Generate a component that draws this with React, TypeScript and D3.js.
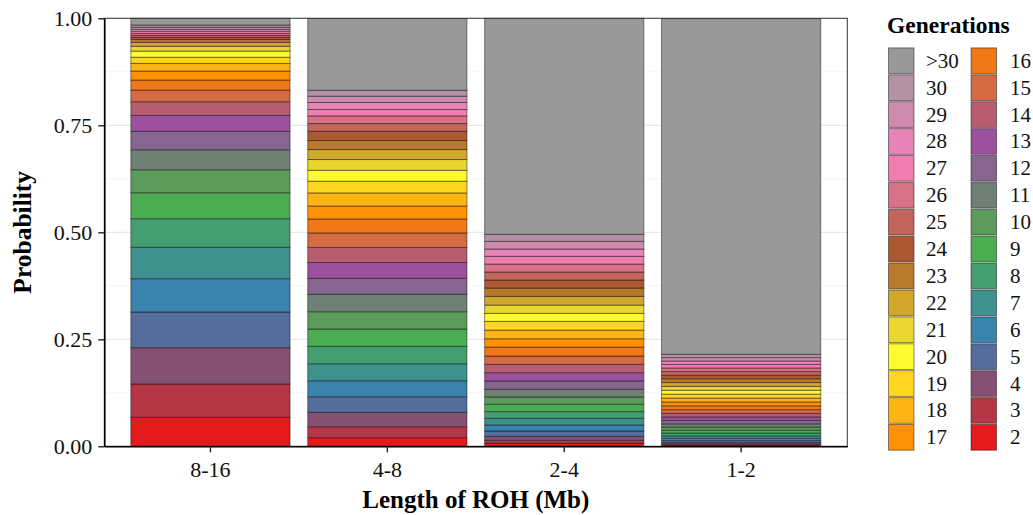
import React, { useRef, useEffect } from 'react';
import * as d3 from 'd3';

const { select, scaleLinear, scaleBand, stack, piecewise, interpolateRgb, axisLeft, axisBottom, range } = d3;

// bar categories (left to right)
const categories = ['8-16', '4-8', '2-4', '1-2'];

// generations, bottom of the stack first
const generations = [
  '2', '3', '4', '5', '6', '7', '8', '9', '10', '11', '12', '13', '14', '15', '16',
  '17', '18', '19', '20', '21', '22', '23', '24', '25', '26', '27', '28', '29', '30', '>30',
];

// probability per generation, same order as `generations`
const prob8to16 = [
  0.0678, 0.0778, 0.0848, 0.0834, 0.0778, 0.0734, 0.0668, 0.0607, 0.0537, 0.0467,
  0.043, 0.0374, 0.0318, 0.0273, 0.0234, 0.021, 0.018, 0.0142, 0.0145, 0.011,
  0.0093, 0.007, 0.0047, 0.0047, 0.0047, 0.0047, 0.0047, 0.0047, 0.0054, 0.0157,
];
const prob4to8 = [
  0.0201, 0.0257, 0.0336, 0.0364, 0.0374, 0.0397, 0.0407, 0.0404, 0.0404, 0.0407,
  0.0374, 0.0369, 0.035, 0.0341, 0.0327, 0.0304, 0.0304, 0.0273, 0.0257, 0.025,
  0.0234, 0.021, 0.0217, 0.018, 0.0178, 0.015, 0.0164, 0.0147, 0.014, 0.1675,
];
const prob2to4 = [
  0.007, 0.007, 0.0093, 0.0124, 0.014, 0.0157, 0.0157, 0.0171, 0.0171, 0.018,
  0.0194, 0.0194, 0.0194, 0.0194, 0.021, 0.0194, 0.0203, 0.0203, 0.0187, 0.0194,
  0.0203, 0.0194, 0.0187, 0.0187, 0.0187, 0.018, 0.0171, 0.018, 0.0164, 0.5047,
];
const prob1to2 = [
  0.0021, 0.0028, 0.0037, 0.0047, 0.0054, 0.0058, 0.0063, 0.0068, 0.0072, 0.0077,
  0.0079, 0.0082, 0.0084, 0.0086, 0.0089, 0.0091, 0.0091, 0.0091, 0.0091, 0.0091,
  0.0089, 0.0089, 0.0084, 0.0084, 0.0084, 0.0084, 0.0079, 0.0079, 0.0079, 0.784,
];
const seriesByCategory = [prob8to16, prob4to8, prob2to4, prob1to2];

const yTicks = [0, 0.25, 0.5, 0.75, 1];
const yMinorTicks = [0.125, 0.375, 0.625, 0.875];

// Set1 ramp, like colorRampPalette(brewer.pal(9, "Set1"))
const set1 = ['#E41A1C', '#377EB8', '#4DAF4A', '#984EA3', '#FF7F00', '#FFFF33', '#A65628', '#F781BF', '#999999'];
const ramp = piecewise(interpolateRgb, set1);
const palette = generations.map((_, i) => ramp(i / (generations.length - 1)));

const W = 1033;
const H = 515;
const panel = { left: 104.3, right: 847.3, top: 18.3, bottom: 446.3 };
const serif = '"Liberation Serif", "Times New Roman", serif';
const edge = 'rgba(0,0,0,0.45)';

export default function App() {
  const ref = useRef<SVGSVGElement>(null);

  useEffect(() => {
    document.body.style.margin = '0';
    const svg = select(ref.current);
    svg.selectAll('*').remove();

    const x = scaleBand<string>()
      .domain(categories)
      .range([panel.left, panel.right])
      .paddingInner(0.1)
      .paddingOuter(0.15);
    const y = scaleLinear().domain([0, 1]).range([panel.bottom, panel.top]);

    const rows = categories.map((c, ci) => {
      const row: { [k: string]: string | number } = { category: c };
      generations.forEach((g, gi) => (row[g] = seriesByCategory[ci][gi]));
      return row;
    });
    const stacked = stack<{ [k: string]: string | number }>().keys(generations)(rows);

    // grid
    const grid = svg.append('g');
    grid
      .selectAll('line.minor')
      .data(yMinorTicks)
      .enter()
      .append('line')
      .attr('x1', panel.left)
      .attr('x2', panel.right)
      .attr('y1', d => y(d))
      .attr('y2', d => y(d))
      .attr('stroke', '#f2f2f2')
      .attr('stroke-width', 0.8);
    grid
      .selectAll('line.major')
      .data(yTicks)
      .enter()
      .append('line')
      .attr('x1', panel.left)
      .attr('x2', panel.right)
      .attr('y1', d => y(d))
      .attr('y2', d => y(d))
      .attr('stroke', '#e9e9e9')
      .attr('stroke-width', 1.2);

    // bars
    svg
      .append('g')
      .selectAll('g')
      .data(stacked)
      .enter()
      .append('g')
      .attr('fill', (_, i) => palette[i])
      .selectAll('rect')
      .data(d => d)
      .enter()
      .append('rect')
      .attr('x', d => x(d.data.category as string) as number)
      .attr('width', x.bandwidth())
      .attr('y', d => y(d[1]))
      .attr('height', d => y(d[0]) - y(d[1]))
      .attr('stroke', edge)
      .attr('stroke-width', 1);

    // panel border
    svg
      .append('rect')
      .attr('x', panel.left)
      .attr('y', panel.top)
      .attr('width', panel.right - panel.left)
      .attr('height', panel.bottom - panel.top)
      .attr('fill', 'none')
      .attr('stroke', '#333')
      .attr('stroke-width', 1);

    // axes
    const yAxis = svg
      .append('g')
      .attr('transform', `translate(${panel.left},0)`)
      .call(
        axisLeft(y)
          .tickValues(yTicks)
          .tickFormat(d => (d as number).toFixed(2))
          .tickSize(6)
          .tickSizeOuter(0)
          .tickPadding(6)
      );
    const xAxis = svg
      .append('g')
      .attr('transform', `translate(0,${panel.bottom})`)
      .call(axisBottom(x).tickSize(6).tickSizeOuter(0).tickPadding(9));
    [yAxis, xAxis].forEach(a => {
      a.select('.domain').attr('stroke', '#000').attr('stroke-width', 1.6);
      a.selectAll('.tick line').attr('stroke', '#222').attr('stroke-width', 1.4);
      a.selectAll('.tick text').attr('fill', '#111').style('font-family', serif).style('font-size', '22px');
    });
    yAxis.selectAll('.tick text').attr('dy', '0.34em');

    // axis titles
    svg
      .append('text')
      .attr('x', (panel.left + panel.right) / 2)
      .attr('y', 507.5)
      .attr('text-anchor', 'middle')
      .style('font-family', serif)
      .style('font-weight', 'bold')
      .style('font-size', '25px')
      .text('Length of ROH (Mb)');
    svg
      .append('text')
      .attr('transform', `translate(31,${(panel.top + panel.bottom) / 2}) rotate(-90)`)
      .attr('text-anchor', 'middle')
      .style('font-family', serif)
      .style('font-weight', 'bold')
      .style('font-size', '25.5px')
      .text('Probability');

    // legend
    const legend = svg.append('g');
    legend
      .append('text')
      .attr('x', 887)
      .attr('y', 32.5)
      .style('font-family', serif)
      .style('font-weight', 'bold')
      .style('font-size', '23.5px')
      .text('Generations');
    const perCol = 15;
    const order = generations.slice().reverse();
    const keyX = [888.5, 971];
    const labelX = [926, 1010];
    const keyTop = 47.3;
    const pitch = 26.9;
    const items = legend
      .selectAll('g.item')
      .data(range(order.length))
      .enter()
      .append('g')
      .attr('class', 'item');
    items
      .append('rect')
      .attr('x', i => keyX[Math.floor(i / perCol)])
      .attr('y', i => keyTop + (i % perCol) * pitch + 0.6)
      .attr('width', 25.5)
      .attr('height', 25.7)
      .attr('fill', i => palette[generations.indexOf(order[i])])
      .attr('stroke', edge)
      .attr('stroke-width', 1);
    items
      .append('text')
      .attr('x', i => labelX[Math.floor(i / perCol)])
      .attr('y', i => keyTop + (i % perCol) * pitch + pitch / 2 + 7)
      .style('font-family', serif)
      .style('font-size', '21px')
      .attr('fill', '#111')
      .text(i => order[i]);
  }, []);

  return <svg ref={ref} width={W} height={H} style={{ display: 'block', background: '#fff' }} />;
}
